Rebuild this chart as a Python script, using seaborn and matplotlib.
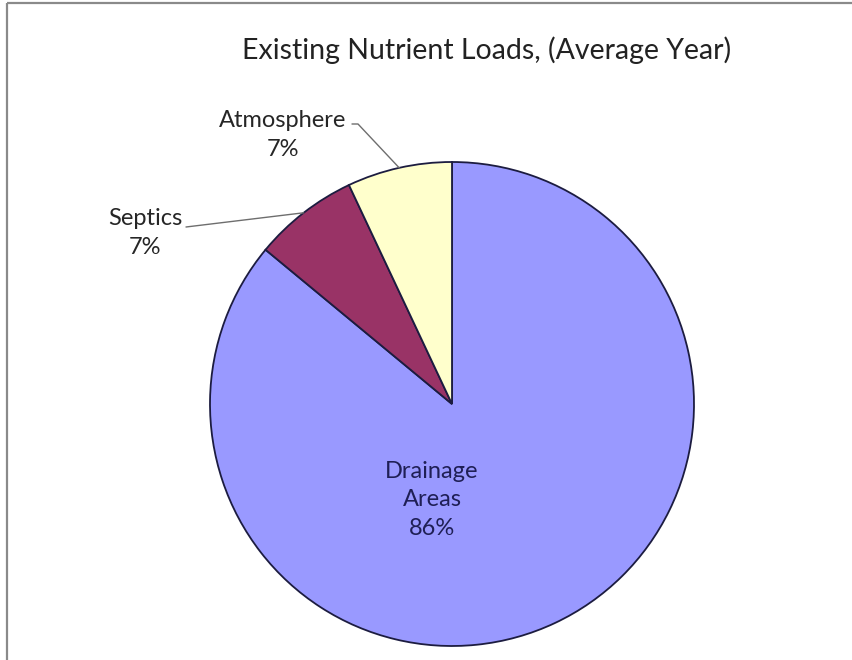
import numpy as np
import matplotlib
matplotlib.use("Agg")
import matplotlib.pyplot as plt
import seaborn as sns
from matplotlib.lines import Line2D

# ======== Data ========
categories = ["Drainage\nAreas", "Septics", "Atmosphere"]
shares = [86, 7, 7]
slice_colors = ["#9999FF", "#993366", "#FFFFCC"]
title = "Existing Nutrient Loads, (Average Year)"

# ======== Style ========
sns.set_theme(style="white")
plt.rcParams["font.family"] = ["Lato", "DejaVu Sans"]

W, H = 852, 660
fig = plt.figure(figsize=(W / 100, H / 100), dpi=100)
ax = fig.add_axes([0, 0, 1, 1])


def Y(y):
    # layout positions measured from the top of the image
    return H - y


# chart frame (cropped Excel chart, only left/top edges visible)
fig.lines.append(Line2D([7 / W, 7 / W], [-0.05, Y(3) / H], transform=fig.transFigure,
                        color="#8a8a8a", lw=1.6, solid_capstyle="butt"))
fig.lines.append(Line2D([7 / W, 1.05], [Y(3) / H, Y(3) / H], transform=fig.transFigure,
                        color="#8a8a8a", lw=1.6, solid_capstyle="butt"))

cx, cy, r = 452, Y(404), 242
wedges, _ = ax.pie(shares, colors=slice_colors, startangle=90, counterclock=False,
                   center=(cx, cy), radius=r, frame=True,
                   wedgeprops=dict(edgecolor="#1c1c40", linewidth=1.3))
ax.set_xlim(0, W)
ax.set_ylim(0, H)
ax.axis("off")
ax.set_aspect("equal")

ax.text(487, Y(50), title, ha="center", va="center", fontsize=20.5, color="#222222")

# inside label for the big slice
ax.text(432, Y(500), f"{categories[0]}\n{shares[0]}%", ha="center", va="center",
        fontsize=17, color="#1f1f55", linespacing=1.45)

# outside labels with leader lines
label_pos = {1: (145, 233), 2: (283, 135)}
line_start = {1: (186, 227), 2: (352, 124)}
for i in (1, 2):
    w = wedges[i]
    mid = np.deg2rad((w.theta1 + w.theta2) / 2)
    ex = w.center[0] + r * np.cos(mid)
    ey = w.center[1] + r * np.sin(mid)
    tx, ty = label_pos[i]
    ax.text(tx, Y(ty), f"{categories[i]}\n{shares[i]}%", ha="center", va="center",
            fontsize=17, color="#262626", linespacing=1.45)
    sx, sy = line_start[i]
    if i == 2:
        ax.plot([sx, sx + 6, ex], [Y(sy), Y(sy), ey], color="#6e6e6e", lw=1)
    else:
        ax.plot([sx, ex], [Y(sy), ey], color="#6e6e6e", lw=1)

fig.savefig("out.png", dpi=100)
